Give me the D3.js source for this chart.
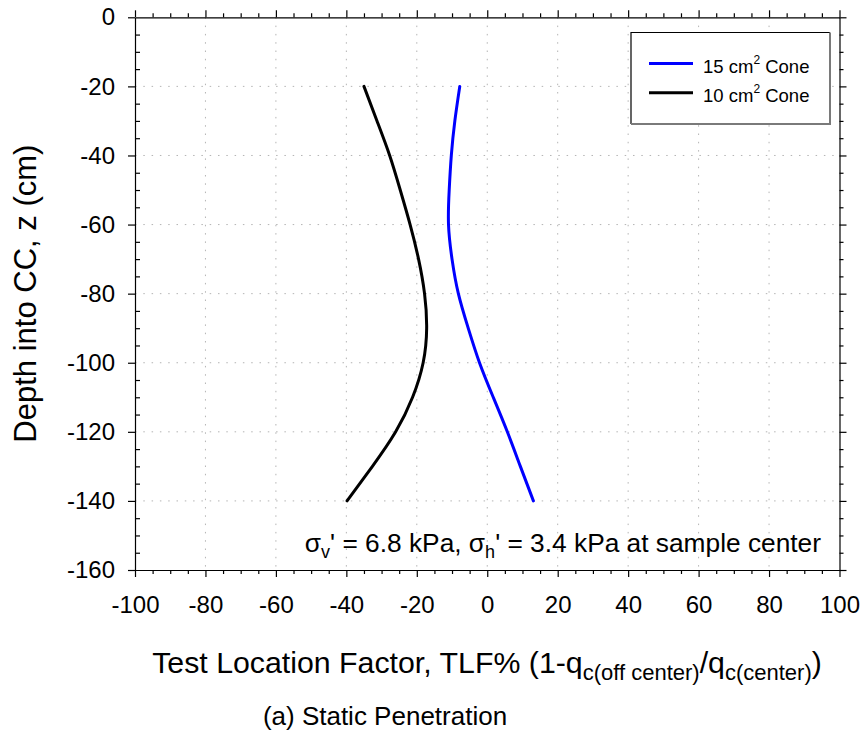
<!DOCTYPE html>
<html>
<head>
<meta charset="utf-8">
<script src="https://cdnjs.cloudflare.com/ajax/libs/d3/7.8.5/d3.min.js"></script>
<style>
  html, body { margin: 0; padding: 0; background: #fff; }
  svg { display: block; font-family: "Liberation Sans", Arial, Helvetica, sans-serif; }
  .grid line { stroke: #b4b4b4; stroke-width: 1; stroke-dasharray: 1.5 6.8; }
  .axis path, .axis line { stroke: #000; stroke-width: 1.2; }
  .axis text { font-size: 24px; fill: #000; font-family: "Liberation Sans", Arial, sans-serif; }
</style>
</head>
<body>
<svg id="chart" width="862" height="746"></svg>
<script>
// Test location factor vs. depth for two cone sizes
const depth      = [-20, -30, -40, -50, -60, -70, -80, -90, -100, -110, -120, -130, -140];
const cone15     = [-7.8, -9.2, -10.2, -10.8, -11.0, -10.0, -8.2, -5.4, -2.2, 1.7, 5.7, 9.4, 13.1];
const cone10     = [-35.0, -31.3, -27.7, -24.7, -21.9, -19.5, -17.8, -17.2, -18.2, -21.2, -26.0, -32.6, -39.8];
const xTicks     = [-100, -80, -60, -40, -20, 0, 20, 40, 60, 80, 100];
const yTicks     = [0, -20, -40, -60, -80, -100, -120, -140, -160];
const seriesNames = ["15", "10"];
const seriesColors = ["#0000ff", "#000000"];

const svg = d3.select("#chart");
const mL = 135, mR = 839.5, mT = 17.3, mB = 570;

const x = d3.scaleLinear().domain([-100, 100]).range([mL, mR]);
const y = d3.scaleLinear().domain([-160, 0]).range([mB, mT]);

const minorX = d3.range(-100, 100.1, 5).filter(v => v % 20 !== 0);
const minorY = d3.range(-160, 0.1, 5).filter(v => v % 20 !== 0);
const plain = d => String(d);

// dotted grid
const grid = svg.append("g").attr("class", "grid");
grid.selectAll("line.v").data(xTicks.filter(v => v > -100 && v < 100)).join("line").attr("class", "v")
  .attr("x1", d => x(d)).attr("x2", d => x(d)).attr("y1", mT).attr("y2", mB);
grid.selectAll("line.h").data(yTicks.filter(v => v > -160 && v < 0)).join("line").attr("class", "h")
  .attr("y1", d => y(d)).attr("y2", d => y(d)).attr("x1", mL).attr("x2", mR);

// axes: majors outward, left minors inward
svg.append("g").attr("class", "axis").attr("transform", `translate(${mL},0)`)
  .call(d3.axisLeft(y).tickValues(yTicks).tickSize(7).tickSizeOuter(0).tickPadding(13).tickFormat(plain));
svg.append("g").attr("class", "axis").attr("transform", `translate(${mL},0)`)
  .call(d3.axisRight(y).tickValues(minorY).tickSize(5).tickFormat("")).select(".domain").remove();

svg.append("g").attr("class", "axis").attr("transform", `translate(0,${mB})`)
  .call(d3.axisBottom(x).tickValues(xTicks).tickSize(7).tickSizeOuter(0).tickPadding(19).tickFormat(plain));
svg.append("g").attr("class", "axis").attr("transform", `translate(0,${mB})`)
  .call(d3.axisBottom(x).tickValues(minorX).tickSize(4).tickFormat("")).select(".domain").remove();

svg.append("g").attr("class", "axis").attr("transform", `translate(0,${mT})`)
  .call(d3.axisTop(x).tickValues(xTicks).tickSize(7).tickSizeOuter(0).tickFormat(""));
svg.append("g").attr("class", "axis").attr("transform", `translate(0,${mT})`)
  .call(d3.axisTop(x).tickValues(minorX).tickSize(4).tickFormat("")).select(".domain").remove();

svg.append("g").attr("class", "axis").attr("transform", `translate(${mR},0)`)
  .call(d3.axisRight(y).tickValues(yTicks).tickSize(7).tickSizeOuter(0).tickFormat(""));
svg.append("g").attr("class", "axis").attr("transform", `translate(${mR},0)`)
  .call(d3.axisRight(y).tickValues(minorY).tickSize(4).tickFormat("")).select(".domain").remove();

// curves
const line = d3.line()
  .x(d => x(d[0])).y(d => y(d[1]))
  .curve(d3.curveNatural);

[cone15, cone10].forEach((vals, i) => {
  svg.append("path")
    .datum(vals.map((v, k) => [v, depth[k]]))
    .attr("d", line)
    .attr("fill", "none")
    .attr("stroke", seriesColors[i])
    .attr("stroke-width", 3)
    .attr("stroke-linecap", "round");
});

// legend
const lg = svg.append("g");
lg.append("rect").attr("x", 631).attr("y", 32.5).attr("width", 199).attr("height", 91.5)
  .attr("fill", "#fff").attr("stroke", "none");
lg.append("path").attr("d", "M631,124 V32.5 H830").attr("fill", "none").attr("stroke", "#000").attr("stroke-width", 1.2);
lg.append("path").attr("d", "M830,32.5 V124 H631").attr("fill", "none").attr("stroke", "#7a7a7a").attr("stroke-width", 2);
seriesNames.forEach((n, i) => {
  const yy = 63.5 + i * 29.3;
  lg.append("line").attr("x1", 649).attr("x2", 693).attr("y1", yy).attr("y2", yy)
    .attr("stroke", seriesColors[i]).attr("stroke-width", 3);
  const t = lg.append("text").attr("x", 703).attr("y", yy + 9.5).attr("font-size", 18.5);
  t.append("tspan").text(n + " cm");
  t.append("tspan").attr("font-size", 12).attr("dy", -9).text("2");
  t.append("tspan").attr("dy", 9).text(" Cone");
});

// stress annotation
const an = svg.append("text").attr("x", 821).attr("y", 552).attr("text-anchor", "end").attr("font-size", 26.3);
an.append("tspan").text("σ");
an.append("tspan").attr("font-size", 18).attr("dy", 6).text("v");
an.append("tspan").attr("dy", -6).text("' = 6.8 kPa, σ");
an.append("tspan").attr("font-size", 18).attr("dy", 6).text("h");
an.append("tspan").attr("dy", -6).text("' = 3.4 kPa at sample center");

// axis titles
svg.append("text").attr("transform", `translate(36,${(mT + mB) / 2}) rotate(-90)`)
  .attr("text-anchor", "middle").attr("font-size", 31).text("Depth into CC, z (cm)");

const xt = svg.append("text").attr("x", 487).attr("y", 673).attr("text-anchor", "middle").attr("font-size", 30.3);
xt.append("tspan").text("Test Location Factor, TLF% (1-q");
xt.append("tspan").attr("font-size", 22).attr("dy", 7).text("c(off center)");
xt.append("tspan").attr("dy", -7).text("/q");
xt.append("tspan").attr("font-size", 22).attr("dy", 7).text("c(center)");
xt.append("tspan").attr("dy", -7).text(")");

svg.append("text").attr("x", 385).attr("y", 725).attr("text-anchor", "middle").attr("font-size", 26)
  .text("(a) Static Penetration");
</script>
</body>
</html>
